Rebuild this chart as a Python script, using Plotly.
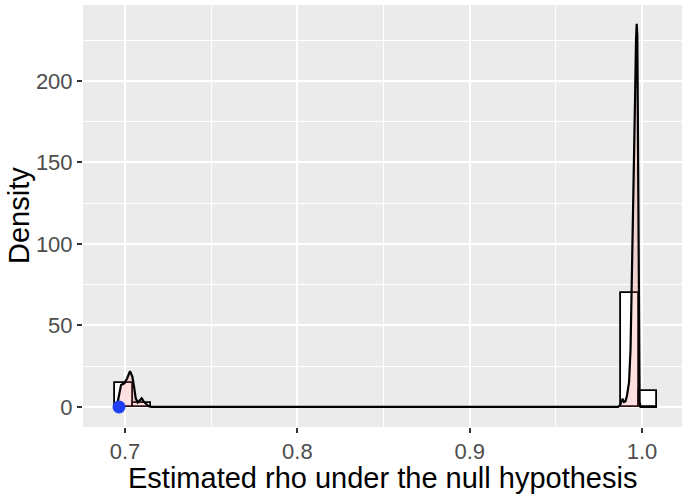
import plotly.graph_objects as go

# Histogram (density scale)
bin_width = 0.010488
hist_x = [0.69944, 0.70993, 0.99311, 1.00360]
hist_density = [15.0, 2.3, 70.0, 10.0]

# Kernel density curve
dens_x = [0.69536, 0.69652, 0.69768, 0.69959, 0.70116, 0.70290, 0.70424, 0.70522,
          0.70621, 0.70737, 0.70853, 0.70969, 0.71085, 0.71201, 0.71352, 0.71509,
          0.98607, 0.98722, 0.98810, 0.98868, 0.98955, 0.99042, 0.99129, 0.99246,
          0.99333, 0.99402, 0.99495, 0.99594, 0.99652, 0.99692, 0.99727, 0.99768,
          0.99803, 0.99832, 0.99861, 0.99913, 1.00871]
dens_y = [1.0, 6.3, 13.5, 14.5, 17.5, 22.0, 18.6, 12.4,
          5.3, 2.7, 3.9, 5.3, 3.3, 1.8, 0.5, 0.0,
          0.0, 1.0, 4.0, 5.0, 3.0, 3.5, 7.0, 15.0,
          35.0, 70.0, 127.0, 188.0, 225.0, 235.0, 228.0, 170.0,
          90.0, 25.0, 3.0, 0.0, 0.0]

# Observed value
obs_x = [0.6965]
obs_y = [0.0]

x_ticks = [0.7, 0.8, 0.9, 1.0]
x_tick_labels = ["0.7", "0.8", "0.9", "1.0"]
y_ticks = [0, 50, 100, 150, 200]
y_tick_labels = ["0", "50", "100", "150", "200"]

fig = go.Figure()
fig.add_trace(go.Bar(
    x=hist_x, y=hist_density, width=[bin_width] * len(hist_x),
    marker=dict(color="white", line=dict(color="black", width=1.8)),
    showlegend=False, hoverinfo="skip"))
fig.add_trace(go.Scatter(
    x=dens_x, y=dens_y, mode="lines", fill="tozeroy",
    fillcolor="rgba(255,102,102,0.2)",
    line=dict(color="black", width=2.2), showlegend=False))
fig.add_trace(go.Scatter(
    x=obs_x, y=obs_y, mode="markers",
    marker=dict(color="#1f3ff5", size=13), showlegend=False))

fig.update_layout(
    width=688, height=496,
    margin=dict(l=83, r=6, t=5, b=69),
    paper_bgcolor="white", plot_bgcolor="#EBEBEB",
    barmode="overlay", bargap=0,
    font=dict(family="Liberation Sans, Arial, sans-serif"),
    xaxis=dict(range=[0.6756, 1.0232], tickvals=x_ticks, ticktext=x_tick_labels,
               showgrid=True, gridcolor="white", gridwidth=2.2, zeroline=False,
               ticks="outside", ticklen=5, tickwidth=1.6, tickcolor="#333333",
               tickfont=dict(size=22, color="#4D4D4D"), showline=False,
               minor=dict(tickvals=[0.75, 0.85, 0.95], showgrid=True,
                          gridcolor="white", gridwidth=1.1, ticks="")),
    yaxis=dict(range=[-12.3, 246.6], tickvals=y_ticks, ticktext=y_tick_labels,
               showgrid=True, gridcolor="white", gridwidth=2.2, zeroline=False,
               ticks="outside", ticklen=5, tickwidth=1.6, tickcolor="#333333",
               tickfont=dict(size=22, color="#4D4D4D"), showline=False,
               minor=dict(tickvals=[25, 75, 125, 175, 225], showgrid=True,
                          gridcolor="white", gridwidth=1.1, ticks="")),
    annotations=[
        dict(text="Estimated rho under the null hypothesis", xref="paper", yref="paper",
             x=0.5, y=0, yshift=-51, xanchor="center", yanchor="middle",
             showarrow=False, font=dict(size=29, color="black")),
        dict(text="Density", xref="paper", yref="paper", x=0, y=0.5, xshift=-64,
             xanchor="center", yanchor="middle", textangle=-90,
             showarrow=False, font=dict(size=29, color="black")),
    ],
)

fig.write_html("out.html", config={"displayModeBar": False},
               post_script="document.body.style.margin='0px';")
